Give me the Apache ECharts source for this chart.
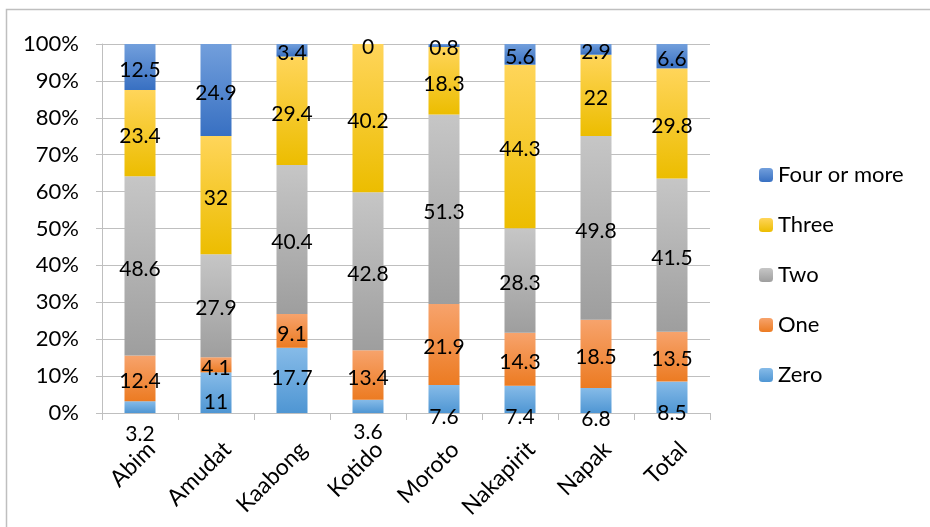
<!DOCTYPE html>
<html>
<head>
<meta charset="utf-8">
<script src="https://cdn.jsdelivr.net/npm/echarts@6/dist/echarts.min.js"></script>
<style>
  html, body { margin: 0; padding: 0; background: #fff; }
  #chart { width: 930px; height: 527px; }
</style>
</head>
<body>
<div id="chart"></div>
<script>
// categories + raw values
var districts = ['Abim', 'Amudat', 'Kaabong', 'Kotido', 'Moroto', 'Nakapirit', 'Napak', 'Total'];
var zero       = [3.2, 11, 17.7, 3.6, 7.6, 7.4, 6.8, 8.5];
var one        = [12.4, 4.1, 9.1, 13.4, 21.9, 14.3, 18.5, 13.5];
var two        = [48.6, 27.9, 40.4, 42.8, 51.3, 28.3, 49.8, 41.5];
var three      = [23.4, 32, 29.4, 40.2, 18.3, 44.3, 22, 29.8];
var fourOrMore = [12.5, 24.9, 3.4, 0, 0.8, 5.6, 2.9, 6.6];
var yTicks     = [0, 10, 20, 30, 40, 50, 60, 70, 80, 90, 100];

// label nudges for the bottom (Zero) labels, as drawn in the original
var zeroLabelDy = [27, 10, -2, 26, 18, 18, 19, 16];

var allSeries = [zero, one, two, three, fourOrMore];

function grad(top, bottom) {
    return new echarts.graphic.LinearGradient(0, 0, 0, 1, [
        { offset: 0, color: top },
        { offset: 1, color: bottom }
    ]);
}

// 100% stacked: each bar is scaled by its column total (like Excel)
function toShares(values, dy) {
    return values.map(function (v, i) {
        var sum = 0;
        allSeries.forEach(function (s) { sum += s[i]; });
        var item = { value: v / sum * 100, raw: v };
        if (dy) item.label = { offset: [0, dy[i]] };
        return item;
    });
}

var fontFam = 'Lato, "Open Sans", sans-serif';

function makeSeries(name, values, top, bottom, dy) {
    return {
        name: name,
        type: 'bar',
        stack: 'total',
        barWidth: 31,
        itemStyle: { color: grad(top, bottom) },
        label: {
            show: true,
            position: 'inside',
            offset: [0, 3],
            color: '#000',
            fontSize: 21,
            fontFamily: fontFam,
            formatter: function (p) { return p.data.raw; }
        },
        data: toShares(values, dy)
    };
}

var myChart = echarts.init(document.getElementById('chart'));

var option = {
    animation: false,
    backgroundColor: '#fff',
    graphic: [{
        type: 'rect',
        shape: { x: 6.5, y: 9.5, width: 1000, height: 600 },
        style: { fill: 'none', stroke: '#bfbfbf', lineWidth: 1.5 },
        silent: true
    }],
    grid: { left: 102, right: 220, top: 44, bottom: 114 },
    legend: {
        orient: 'vertical',
        left: 754,
        top: 159,
        itemWidth: 14,
        itemHeight: 14,
        itemGap: 28,
        textStyle: { fontSize: 22, lineHeight: 22, fontFamily: fontFam, color: '#000' },
        data: ['Four or more', 'Three', 'Two', 'One', 'Zero']
    },
    xAxis: {
        type: 'category',
        data: districts,
        axisLine: { lineStyle: { color: '#bfbfbf', width: 1 } },
        axisTick: { show: true, length: 7, lineStyle: { color: '#bfbfbf' } },
        axisLabel: {
            rotate: 45,
            margin: 44,
            padding: [0, -16, 0, 0],
            fontSize: 23,
            fontFamily: fontFam,
            color: '#000'
        }
    },
    yAxis: {
        type: 'value',
        min: yTicks[0],
        max: yTicks[yTicks.length - 1],
        interval: yTicks[1] - yTicks[0],
        axisLine: { show: true, lineStyle: { color: '#bfbfbf', width: 1 } },
        axisTick: { show: true, length: 6, lineStyle: { color: '#bfbfbf' } },
        splitLine: { lineStyle: { color: '#bfbfbf', width: 1 } },
        axisLabel: {
            margin: 23,
            fontSize: 22,
            fontFamily: fontFam,
            color: '#000',
            formatter: '{value}%'
        }
    },
    series: [
        makeSeries('Zero', zero, '#86bbe8', '#4f96d3', zeroLabelDy),
        makeSeries('One', one, '#f7a36c', '#ec7b22'),
        makeSeries('Two', two, '#c6c6c6', '#9e9e9e'),
        makeSeries('Three', three, '#ffd55a', '#ecbd00'),
        makeSeries('Four or more', fourOrMore, '#729fdc', '#3870c2')
    ]
};

myChart.setOption(option);
</script>
</body>
</html>
